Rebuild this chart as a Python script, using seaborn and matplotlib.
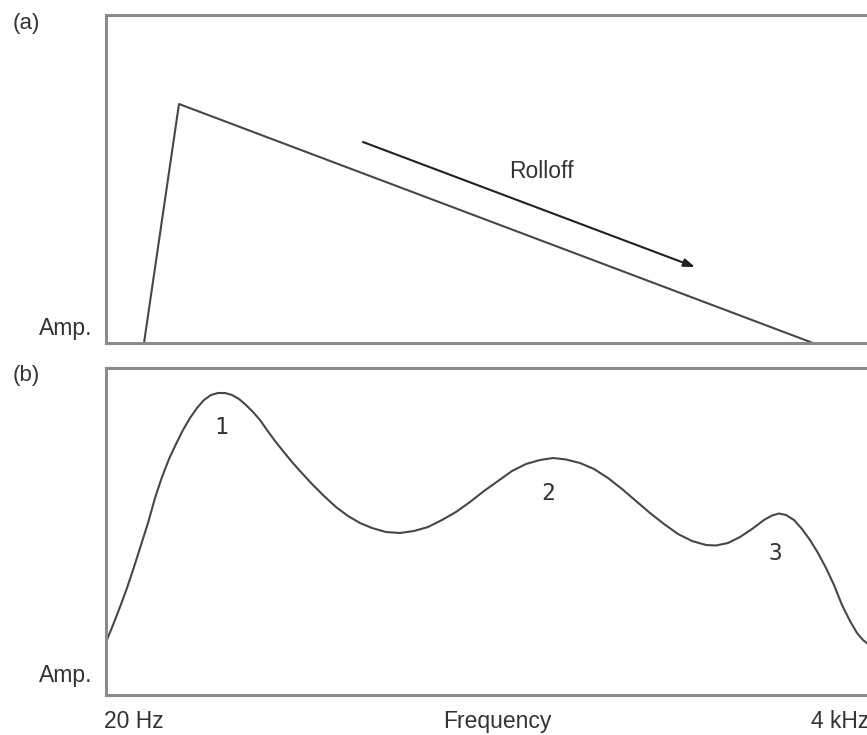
import matplotlib
matplotlib.use("Agg")
import matplotlib.pyplot as plt
import seaborn as sns
import pandas as pd

sns.set_theme(style="white")
plt.rcParams["font.family"] = ["Liberation Sans", "DejaVu Sans"]

# Frequency runs 0-766 and amplitude 0-328 (arbitrary units) in both panels.

# (a) idealised spectrum: steep rise then linear rolloff
rolloff_freq = [38, 73, 707]
rolloff_amp = [0, 239, 0]
arrow_start = (257, 201)
arrow_end = (589, 76)
rolloff_text_pos = (435, 171)

# (b) measured response with three resonance peaks
resp_freq = [0.5, 7, 14, 21, 28, 35, 42, 49, 56, 63, 70, 77, 84, 91, 98, 105,
             112, 119, 126, 133, 140, 147, 154, 161, 169, 177, 186, 194, 206,
             218, 230, 242, 254, 266, 280, 294, 308, 322, 336, 350, 364, 378,
             392, 406, 420, 434, 447, 460, 474, 488, 502, 516, 530, 544, 558,
             572, 586, 600, 610, 622, 634, 646, 658, 666, 673, 680, 688, 696,
             704, 712, 720, 728, 736, 744, 751, 757, 762, 766]
resp_amp = [54, 70, 88, 107, 128, 150, 172, 197, 218, 236, 251, 265, 277, 287,
            295, 300, 302, 302, 300, 296, 290, 283, 275, 265, 254, 244, 233,
            224, 211, 199, 188, 179, 172, 167, 163, 162, 164, 168, 175, 183,
            193, 204, 214, 224, 231, 235, 237, 235.5, 232, 226, 217, 206, 194,
            182, 171, 161, 154, 150, 149.5, 152, 158, 166, 175, 179.5, 181.5,
            180, 175, 166, 155, 142, 127, 110, 90, 74, 62, 55, 51, 50]

peak_labels = ["1", "2", "3"]
peak_freq = [115, 442, 669]
peak_amp = [268, 202, 142]

freq_labels = ["20 Hz", "Frequency", "4 kHz"]
freq_label_x = [-2, 391, 705]
freq_label_ha = ["left", "center", "left"]

line_color = "#474747"
spine_color = "#8a8a8a"
text_color = "#333333"
fs = 16.5

fig = plt.figure(figsize=(8.67, 7.35), dpi=100)
ax_a = fig.add_axes([106 / 867, 1 - 343 / 735, 766 / 867, 328 / 735])
ax_b = fig.add_axes([106 / 867, 1 - 695 / 735, 766 / 867, 327 / 735])

df_a = pd.DataFrame({"freq": rolloff_freq, "amp": rolloff_amp})
df_b = pd.DataFrame({"freq": resp_freq, "amp": resp_amp})

sns.lineplot(data=df_a, x="freq", y="amp", ax=ax_a, sort=False,
             color=line_color, linewidth=1.5)
sns.lineplot(data=df_b, x="freq", y="amp", ax=ax_b, sort=False,
             color=line_color, linewidth=1.5)

ax_a.set_ylim(0, 328)
ax_b.set_ylim(0, 327)
for ax in (ax_a, ax_b):
    ax.set_xlim(0, 766)
    ax.set_xticks([])
    ax.set_yticks([])
    ax.set_xlabel("")
    ax.set_ylabel("")
    for side in ("left", "top", "bottom"):
        ax.spines[side].set_color(spine_color)
        ax.spines[side].set_linewidth(2.2)
    ax.spines["right"].set_visible(False)

# Rolloff arrow and label
ax_a.annotate("", xy=arrow_end, xytext=arrow_start,
              arrowprops=dict(arrowstyle="-|>,head_length=0.55,head_width=0.2",
                              color="#222222", linewidth=1.5, shrinkA=0, shrinkB=0))
ax_a.text(*rolloff_text_pos, "Rolloff", ha="center", va="center",
          fontsize=fs, color=text_color)

# Peak numbers
for lab, px, py in zip(peak_labels, peak_freq, peak_amp):
    ax_b.text(px, py, lab, ha="center", va="center", fontsize=fs,
              family=["DejaVu Sans Mono"], color=text_color)

# Amplitude labels
ax_a.text(-0.018, 0.024, "Amp.", transform=ax_a.transAxes, ha="right",
          va="baseline", fontsize=fs, color=text_color)
ax_b.text(-0.018, 0.040, "Amp.", transform=ax_b.transAxes, ha="right",
          va="baseline", fontsize=fs, color=text_color)

# Frequency axis labels
for lab, fx, ha in zip(freq_labels, freq_label_x, freq_label_ha):
    ax_b.text(fx, -0.101, lab, transform=ax_b.get_xaxis_transform(), ha=ha,
              va="baseline", fontsize=fs, color=text_color, clip_on=False)

# Panel tags
fig.text(26 / 867, 1 - 23 / 735, "(a)", ha="center", va="center",
         fontsize=16, color=text_color)
fig.text(26 / 867, 1 - 375 / 735, "(b)", ha="center", va="center",
         fontsize=16, color=text_color)

fig.savefig("out.png", dpi=100)
